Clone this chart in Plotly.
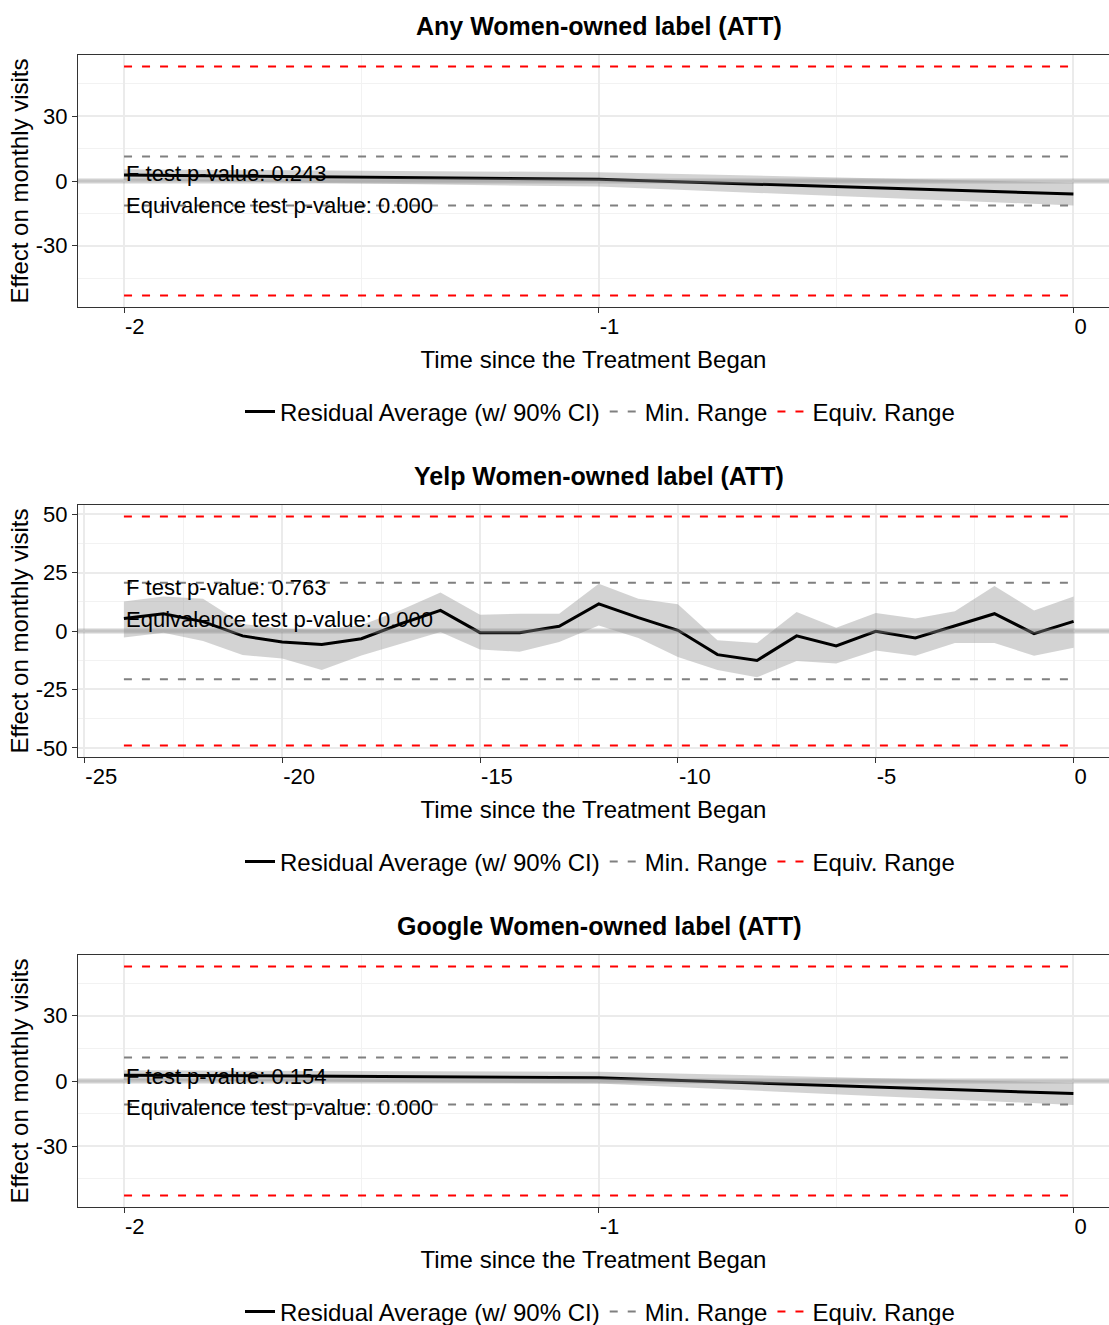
import plotly.graph_objects as go

# ---------------- data ----------------
PANEL_TITLES = ["Any Women-owned label (ATT)", "Yelp Women-owned label (ATT)", "Google Women-owned label (ATT)"]

ANY_TIME = [-2, -1, 0]
ANY_EST = [2.8, 0.8, -6.0]
ANY_LO = [0.3, -2.6, -11.3]
ANY_HI = [5.4, 4.1, -0.8]
ANY_MIN_RANGE = 11.4
ANY_EQUIV_RANGE = 53.1
ANY_F_P = "F test p-value: 0.243"
ANY_EQ_P = "Equivalence test p-value: 0.000"
ANY_TEXT_Y = [3.4, -11.2]

YELP_TIME = [-24, -23, -22, -21, -20, -19, -18, -17, -16, -15, -14, -13, -12,
             -11, -10, -9, -8, -7, -6, -5, -4, -3, -2, -1, 0]
YELP_EST = [5.3, 7.4, 4.0, -2.1, -4.7, -5.8, -3.3, 3.1, 8.8, -0.7, -0.7, 2.0, 11.6,
            5.7, 0.3, -10.1, -12.6, -2.1, -6.4, -0.1, -3.0, 2.1, 7.4, -1.1, 4.1]
YELP_HI = [12.6, 14.8, 13.8, 3.0, 1.0, 0.5, 2.5, 9.0, 16.5, 7.0, 7.4, 7.4, 20.2,
           13.8, 11.4, -4.0, -5.1, 8.1, 1.4, 7.7, 5.3, 8.4, 19.2, 8.8, 14.8]
YELP_LO = [-2.8, -0.8, -4.3, -10.3, -11.8, -16.7, -10.5, -5.5, -0.4, -7.9, -8.9, -4.7, 2.4,
           -3.0, -11.1, -16.7, -19.8, -12.8, -13.9, -8.3, -10.6, -5.1, -5.1, -10.6, -7.2]
YELP_MIN_RANGE = 20.6
YELP_EQUIV_RANGE = 49.0
YELP_F_P = "F test p-value: 0.763"
YELP_EQ_P = "Equivalence test p-value: 0.000"
YELP_TEXT_Y = [18.6, 5.0]

GOOGLE_TIME = [-2, -1, 0]
GOOGLE_EST = [2.7, 1.5, -5.8]
GOOGLE_LO = [0.4, -1.2, -11.0]
GOOGLE_HI = [4.9, 4.3, -0.8]
GOOGLE_MIN_RANGE = 10.8
GOOGLE_EQUIV_RANGE = 52.7
GOOGLE_F_P = "F test p-value: 0.154"
GOOGLE_EQ_P = "Equivalence test p-value: 0.000"
GOOGLE_TEXT_Y = [2.3, -12.2]

X_TICKS = [[-2, -1, 0], [-25, -20, -15, -10, -5, 0], [-2, -1, 0]]
Y_TICKS = [[-30, 0, 30], [-50, -25, 0, 25, 50], [-30, 0, 30]]
X_MINOR_STEP = [0.5, 2.5, 0.5]
Y_MINOR_STEP = [15, 12.5, 15]

LEGEND_NAMES = ["Residual Average (w/ 90% CI)", "Min. Range", "Equiv. Range"]
X_TITLE = "Time since the Treatment Began"
Y_TITLE = "Effect on monthly visits"

# ---------------- layout helpers ----------------
W, H = 1109, 1325
ML = 78
MT = 55
PLOT_BOTTOM = 1207
MB = H - PLOT_BOTTOM
MR = 0
PW, PH = W - ML - MR, H - MT - MB
FONT = "Liberation Sans, Arial, Helvetica, sans-serif"

def py(screen_px):
    return 1 - (screen_px - MT) / PH

def pxx(screen_px):
    return (screen_px - ML) / PW

panels = [
    dict(t=ANY_TIME, est=ANY_EST, lo=ANY_LO, hi=ANY_HI, mn=ANY_MIN_RANGE, eq=ANY_EQUIV_RANGE,
         fp=ANY_F_P, ep=ANY_EQ_P, ty=ANY_TEXT_Y, xr=[-2.097, 0.075]),
    dict(t=YELP_TIME, est=YELP_EST, lo=YELP_LO, hi=YELP_HI, mn=YELP_MIN_RANGE, eq=YELP_EQUIV_RANGE,
         fp=YELP_F_P, ep=YELP_EQ_P, ty=YELP_TEXT_Y, xr=[-25.16, 0.894]),
    dict(t=GOOGLE_TIME, est=GOOGLE_EST, lo=GOOGLE_LO, hi=GOOGLE_HI, mn=GOOGLE_MIN_RANGE, eq=GOOGLE_EQUIV_RANGE,
         fp=GOOGLE_F_P, ep=GOOGLE_EQ_P, ty=GOOGLE_TEXT_Y, xr=[-2.097, 0.075]),
]

PANEL_TOP = [55, 505, 955]  # screen pixels
PANEL_H = 252

fig = go.Figure()
annotations = []
shapes = []
layout = dict(
    width=W, height=H,
    margin=dict(l=ML, r=MR, t=MT, b=MB, pad=0, autoexpand=False),
    paper_bgcolor="white", plot_bgcolor="white",
    font=dict(family=FONT, size=22, color="black"),
    showlegend=True,
)

for i, p in enumerate(panels):
    k = i + 1
    xref = "x" if k == 1 else f"x{k}"
    yref = "y" if k == 1 else f"y{k}"
    xkey = "xaxis" if k == 1 else f"xaxis{k}"
    ykey = "yaxis" if k == 1 else f"yaxis{k}"
    lkey = "legend" if k == 1 else f"legend{k}"

    t = p["t"]
    # ribbon (90% CI)
    fig.add_trace(go.Scatter(x=t, y=p["hi"], xaxis=xref, yaxis=yref, mode="lines",
                             line=dict(width=0, color="rgba(0,0,0,0)"), showlegend=False, hoverinfo="skip"))
    fig.add_trace(go.Scatter(x=t, y=p["lo"], xaxis=xref, yaxis=yref, mode="lines",
                             line=dict(width=0, color="rgba(0,0,0,0)"), fill="tonexty",
                             fillcolor="rgba(150,150,150,0.42)", showlegend=False, hoverinfo="skip"))
    # min range
    for j, s in enumerate([1, -1]):
        fig.add_trace(go.Scatter(x=[t[0], t[-1]], y=[s * p["mn"], s * p["mn"]], xaxis=xref, yaxis=yref,
                                 mode="lines", line=dict(color="#808080", width=2, dash="8px,10px"),
                                 name=LEGEND_NAMES[1], legend=lkey, legendrank=2,
                                 showlegend=(j == 0), legendgroup=f"min{k}"))
    # equivalence range
    for j, s in enumerate([1, -1]):
        fig.add_trace(go.Scatter(x=[t[0], t[-1]], y=[s * p["eq"], s * p["eq"]], xaxis=xref, yaxis=yref,
                                 mode="lines", line=dict(color="#ff0000", width=2, dash="8px,10px"),
                                 name=LEGEND_NAMES[2], legend=lkey, legendrank=3,
                                 showlegend=(j == 0), legendgroup=f"eq{k}"))
    # estimate line
    fig.add_trace(go.Scatter(x=t, y=p["est"], xaxis=xref, yaxis=yref, mode="lines",
                             line=dict(color="black", width=3), name=LEGEND_NAMES[0],
                             legend=lkey, legendrank=1))

    # zero reference line
    shapes.append(dict(type="line", xref=f"{xref} domain", x0=0, x1=1, yref=yref, y0=0, y1=0,
                       line=dict(color="rgba(140,140,140,0.4)", width=5), layer="above"))

    top = PANEL_TOP[i]
    bot = top + PANEL_H
    yr = p["eq"] * 1.1
    layout[xkey] = dict(
        domain=[0, 1], anchor=yref, range=p["xr"], automargin=False,
        tickvals=X_TICKS[i], ticktext=[str(v) for v in X_TICKS[i]],
        ticklabelposition="outside right",
        showline=True, linecolor="#333333", linewidth=1, mirror=True,
        ticks="outside", ticklen=5, tickcolor="#333333", tickwidth=1,
        showgrid=True, gridcolor="#ebebeb", gridwidth=1.5, zeroline=False,
        minor=dict(dtick=X_MINOR_STEP[i], tick0=0, showgrid=True, gridcolor="#f2f2f2", gridwidth=1),
        tickfont=dict(size=22, color="black", family=FONT),
        title=dict(text=X_TITLE, font=dict(size=24, color="black", family=FONT), standoff=12),
    )
    layout[ykey] = dict(
        domain=[py(bot), py(top)], anchor=xref, range=[-yr, yr], automargin=False,
        tickvals=Y_TICKS[i], ticktext=[str(v) for v in Y_TICKS[i]],
        showline=True, linecolor="#333333", linewidth=1, mirror=False,
        ticks="outside", ticklen=5, tickcolor="#333333", tickwidth=1,
        showgrid=True, gridcolor="#ebebeb", gridwidth=1.5, zeroline=False,
        minor=dict(dtick=Y_MINOR_STEP[i], tick0=0, showgrid=True, gridcolor="#f2f2f2", gridwidth=1),
        tickfont=dict(size=22, color="black", family=FONT),
        title=dict(text=Y_TITLE, font=dict(size=24, color="black", family=FONT), standoff=0),
    )
    layout[lkey] = dict(
        orientation="h", x=pxx(600), xanchor="center", y=py(top + 357), yanchor="middle",
        font=dict(size=24, color="black", family=FONT), bgcolor="rgba(0,0,0,0)",
        itemwidth=30, traceorder="normal",
    )

    # panel title
    annotations.append(dict(text=f"<b>{PANEL_TITLES[i]}</b>", xref="paper", yref="paper",
                            x=pxx(599), y=py(top - 29), xanchor="center", yanchor="middle",
                            showarrow=False, font=dict(size=25, color="black", family=FONT)))
    # p-value texts
    for txt, yv in zip([p["fp"], p["ep"]], p["ty"]):
        annotations.append(dict(text=txt, xref=xref, yref=yref, x=t[0], y=yv,
                                xanchor="left", yanchor="middle", showarrow=False,
                                font=dict(size=22, color="black", family=FONT)))

layout["annotations"] = annotations
layout["shapes"] = shapes
fig.update_layout(**layout)
fig.write_html("out.html", config={"displayModeBar": False},
               post_script="document.body.style.margin='0';")
